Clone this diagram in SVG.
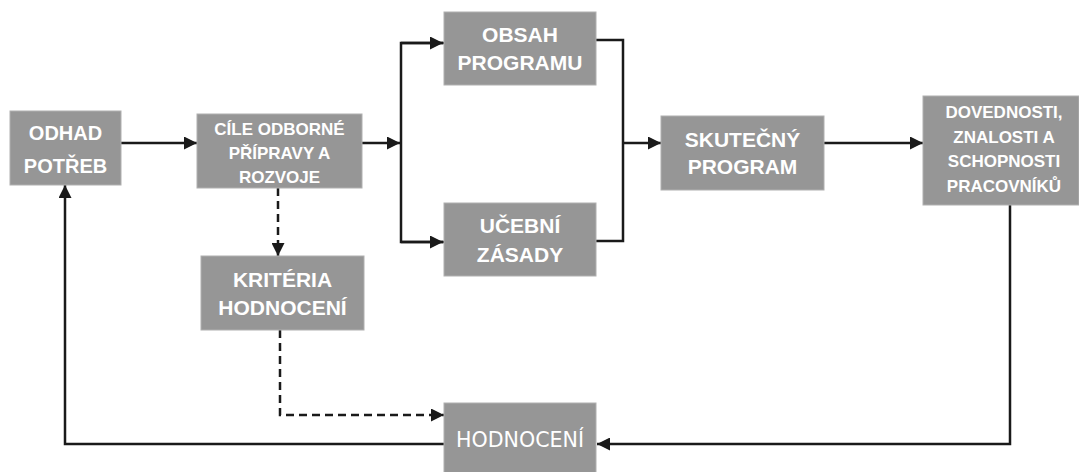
<svg xmlns="http://www.w3.org/2000/svg" width="1079" height="472" viewBox="0 0 1079 472">
  <style>
    .box { fill: #969696; stroke: #b0b0b0; stroke-width: 1; }
    .lbl { fill: #ffffff; font-family: "Liberation Sans", Arial, sans-serif; font-weight: bold; text-anchor: middle; }
    .thin { fill: #ffffff; font-family: "DejaVu Sans Condensed", "DejaVu Sans", sans-serif; font-weight: normal; text-anchor: middle; }
    .ln { fill: none; stroke: #1a1a1a; stroke-width: 2.5; }
    .dash { fill: none; stroke: #1a1a1a; stroke-width: 2.5; stroke-dasharray: 8 5; }
  </style>
  <defs>
    <marker id="arrow" viewBox="0 0 10 10" refX="10" refY="5" markerWidth="13" markerHeight="13" markerUnits="userSpaceOnUse" orient="auto">
      <path d="M0,0 L10,5 L0,10 Z" fill="#1a1a1a"/>
    </marker>
  </defs>
  <rect width="1079" height="472" fill="#ffffff"/>

  <g id="connectors">
    <path class="ln" d="M121,143 H197" marker-end="url(#arrow)"/>
    <path class="ln" d="M444,43 H401 V242 H444"/>
    <path class="ln" d="M401,43 H443" marker-end="url(#arrow)"/>
    <path class="ln" d="M401,242 H443" marker-end="url(#arrow)"/>
    <path class="ln" d="M362,143 H400" marker-end="url(#arrow)"/>
    <path class="ln" d="M596,40 H623 V241 H596"/>
    <path class="ln" d="M623,143 H661" marker-end="url(#arrow)"/>
    <path class="ln" d="M824,143 H923" marker-end="url(#arrow)"/>
    <path class="ln" d="M1010,205 V444 H597" marker-end="url(#arrow)"/>
    <path class="ln" d="M444,444 H65 V185" marker-end="url(#arrow)"/>
    <path class="dash" d="M278,188 V256" marker-end="url(#arrow)"/>
    <path class="dash" d="M280,330 V415 H444" marker-end="url(#arrow)"/>
  </g>

  <g id="odhad">
    <rect class="box" x="10" y="111" width="111" height="74"/>
    <text class="lbl" font-size="20" x="65.5" y="140">ODHAD</text>
    <text class="lbl" font-size="20" x="65.5" y="173">POTŘEB</text>
  </g>

  <g id="cile">
    <rect class="box" x="197" y="114" width="165" height="74"/>
    <text class="lbl" font-size="17" x="279.5" y="135">CÍLE ODBORNÉ</text>
    <text class="lbl" font-size="17" x="279.5" y="159">PŘÍPRAVY A</text>
    <text class="lbl" font-size="17" x="279.5" y="183">ROZVOJE</text>
  </g>

  <g id="obsah">
    <rect class="box" x="444" y="12" width="152" height="73"/>
    <text class="lbl" font-size="21" x="520" y="42">OBSAH</text>
    <text class="lbl" font-size="21" x="520" y="70">PROGRAMU</text>
  </g>

  <g id="ucebni">
    <rect class="box" x="444" y="203" width="152" height="73"/>
    <text class="lbl" font-size="21" x="520" y="233">UČEBNÍ</text>
    <text class="lbl" font-size="21" x="520" y="262">ZÁSADY</text>
  </g>

  <g id="skutecny">
    <rect class="box" x="661" y="116" width="163" height="74"/>
    <text class="lbl" font-size="21" x="742.5" y="147">SKUTEČNÝ</text>
    <text class="lbl" font-size="21" x="742.5" y="174">PROGRAM</text>
  </g>

  <g id="dovednosti">
    <rect class="box" x="923" y="96" width="156" height="109"/>
    <text class="lbl" font-size="17" x="1004" y="118">DOVEDNOSTI,</text>
    <text class="lbl" font-size="17" x="1004" y="143">ZNALOSTI A</text>
    <text class="lbl" font-size="17" x="1004" y="167">SCHOPNOSTI</text>
    <text class="lbl" font-size="17" x="1004" y="192">PRACOVNÍKŮ</text>
  </g>

  <g id="kriteria">
    <rect class="box" x="201" y="256" width="163" height="74"/>
    <text class="lbl" font-size="21" x="282.5" y="287">KRITÉRIA</text>
    <text class="lbl" font-size="21" x="282.5" y="315">HODNOCENÍ</text>
  </g>

  <g id="hodnoceni">
    <rect class="box" x="444" y="403" width="152" height="72"/>
    <text class="thin" font-size="22" x="520" y="447" textLength="128" lengthAdjust="spacingAndGlyphs">HODNOCENÍ</text>
  </g>
</svg>
